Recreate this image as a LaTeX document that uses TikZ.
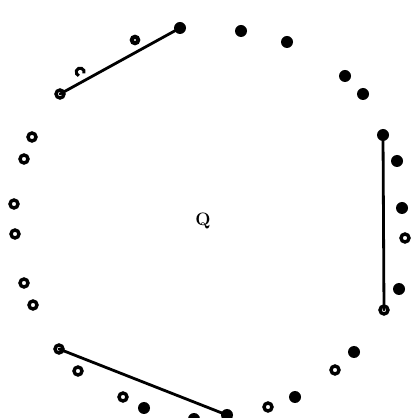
\documentclass[tikz,border=0pt]{standalone}
\begin{document}
\begin{tikzpicture}[x=1pt,y=1pt,
  fdot/.style={circle,fill=black,inner sep=0pt,minimum size=12pt},
  odot/.style={circle,draw=black,line width=3.4pt,inner sep=0pt,minimum size=8pt},
  cdot/.style={circle,inner sep=0pt,minimum size=8pt},
  seg/.style={line width=2.8pt,line cap=round}]
\useasboundingbox (0,0) rectangle (412,418);
% top group
\node[fdot] (t1) at (180,390) {};
\node[odot,line width=4pt,minimum size=6.5pt] (t2) at (135,378) {};
\node[cdot] (t3) at (80,346) {};
\draw[line width=3pt] (t3.-20) arc[start angle=-20,end angle=250,radius=4pt];
\node[odot] (t4) at (60,324) {};
\draw[seg] (t4.center) -- (t1.center);
% top right
\node[fdot] (tr1) at (241,387) {};
\node[fdot] (tr2) at (287,376) {};
\node[fdot] (tr3) at (345,342) {};
\node[fdot] (tr4) at (363,324) {};
% left
\node[odot] (l1) at (32,281) {};
\node[odot] (l2) at (24,259) {};
\node[odot] (l3) at (14,214) {};
\node[odot] (l4) at (15,184) {};
\node[odot] (l5) at (24,135) {};
\node[odot] (l6) at (33,113) {};
% right
\node[fdot] (r1) at (383,283) {};
\node[fdot] (r2) at (397,257) {};
\node[fdot] (r3) at (402,210) {};
\node[odot] (r4) at (405,180) {};
\node[fdot] (r5) at (399,129) {};
\node[odot] (r6) at (384,108) {};
\draw[seg] (r1.center) -- (r6.center);
% bottom left
\node[odot] (b1) at (59,69) {};
\node[odot] (b2) at (78,47) {};
\node[odot] (b3) at (123,21) {};
\node[fdot] (b4) at (144,10) {};
\node[fdot] (b5) at (194,-1) {};
\node[fdot] (b6) at (227,3) {};
\draw[seg] (b1.center) -- (b6.center);
% bottom right
\node[fdot] (br1) at (354,66) {};
\node[odot] (br2) at (335,48) {};
\node[fdot] (br3) at (295,21) {};
\node[odot] (br4) at (268,11) {};
% label
\node[font=\fontsize{18}{22}\selectfont\bfseries] (q) at (203,197) {Q};
\end{tikzpicture}
\end{document}
